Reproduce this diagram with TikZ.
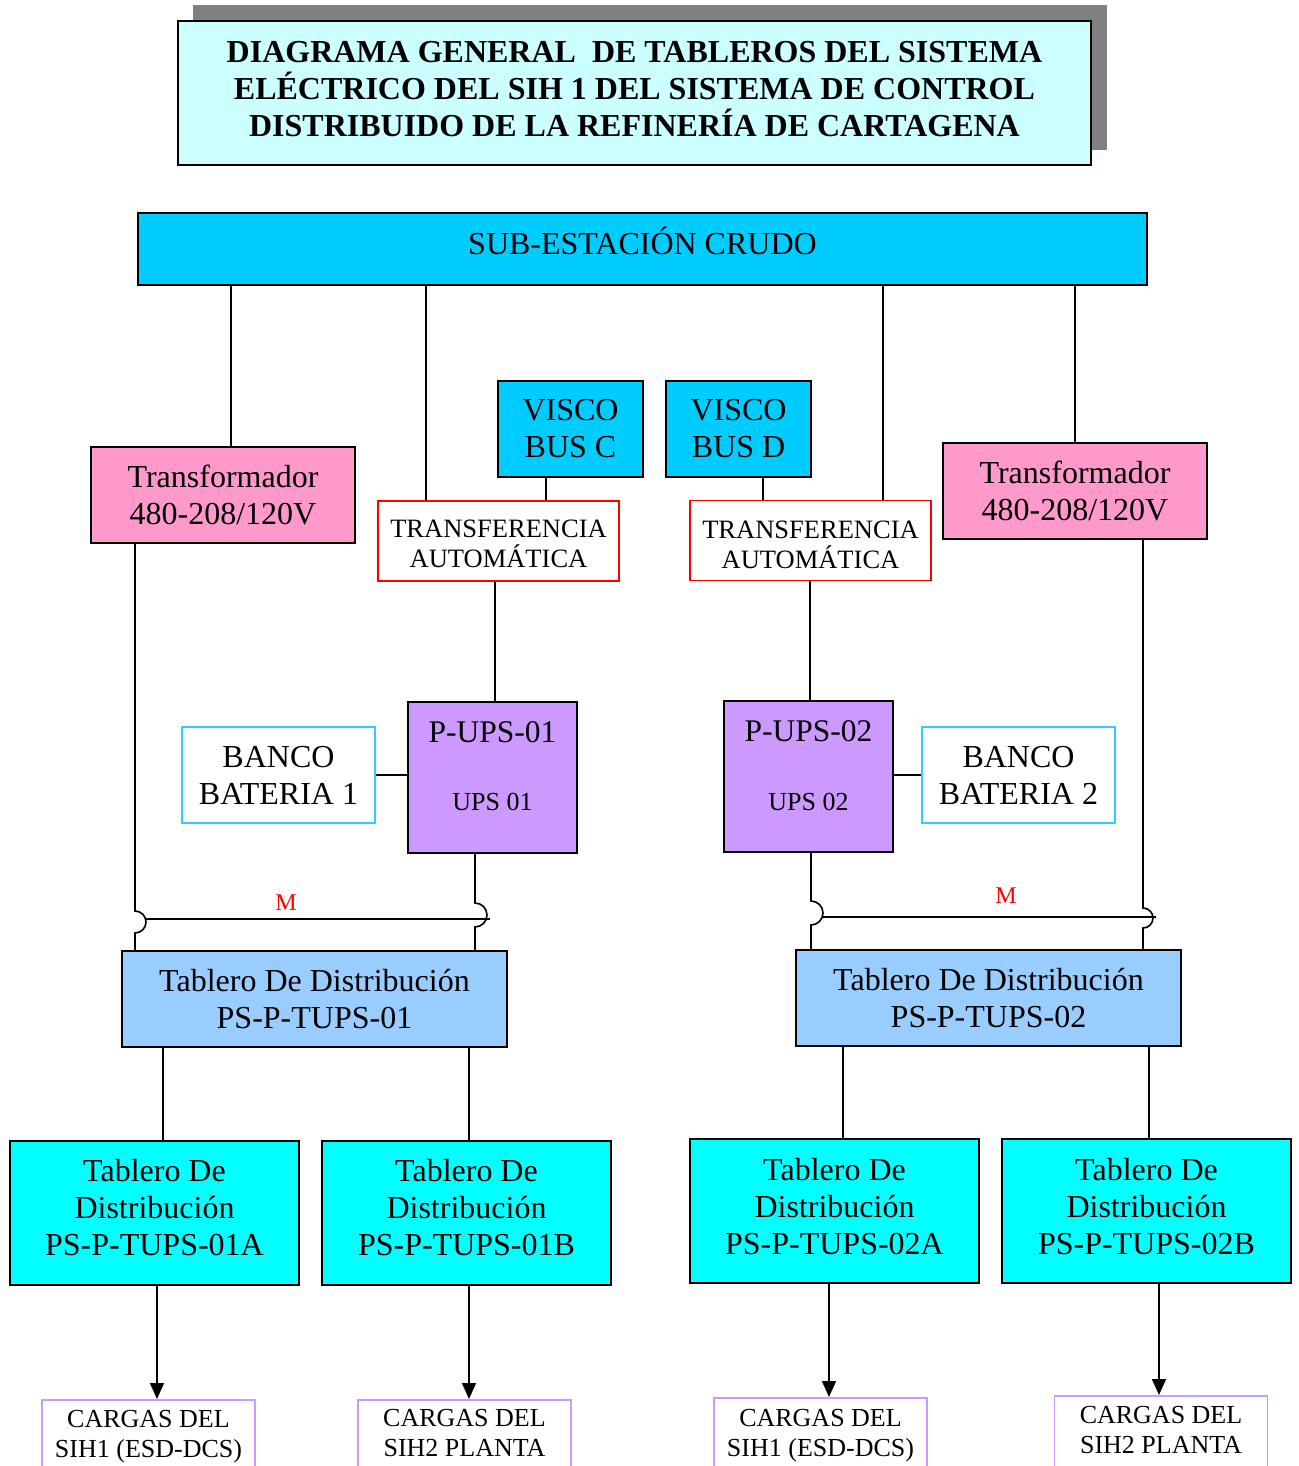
\documentclass[tikz,border=0pt]{standalone}
\usepackage{fontspec}
\setmainfont{Liberation Serif}
\usetikzlibrary{calc,arrows.meta}
\definecolor{titlefill}{HTML}{CCFFFF}
\definecolor{shadowgray}{HTML}{808080}
\definecolor{busblue}{HTML}{00CCFF}
\definecolor{trafopink}{HTML}{FF99CC}
\definecolor{upsviolet}{HTML}{CC99FF}
\definecolor{boardblue}{HTML}{99CCFF}
\definecolor{subcyan}{HTML}{00FFFF}
\definecolor{batcyan}{HTML}{33CCFF}
\definecolor{loadlilac}{HTML}{CC99FF}
\tikzset{
  box/.style={draw=black, line width=1.5pt, inner sep=0pt, align=center,
    font=\fontsize{32}{37}\selectfont},
  txt/.style={inner sep=0pt, align=center, font=\fontsize{32}{37}\selectfont},
  titlebox/.style={box, fill=titlefill},
  busbox/.style={box, fill=busblue},
  trafo/.style={box, fill=trafopink, minimum width=264pt, minimum height=96pt},
  transfer/.style={box, draw=red, fill=white, minimum width=241pt, minimum height=80pt},
  transfertext/.style={txt, font=\fontsize{26.5}{30}\selectfont},
  upsbox/.style={box, fill=upsviolet, minimum width=169pt, minimum height=151pt},
  battery/.style={box, draw=batcyan, fill=white, minimum width=193pt, minimum height=96pt},
  board/.style={box, fill=boardblue, minimum width=385pt, minimum height=96pt},
  subboard/.style={box, fill=subcyan, minimum width=289pt, minimum height=144pt},
  loadbox/.style={draw=loadlilac, line width=1.5pt, fill=white, inner sep=0pt,
    minimum width=213pt, minimum height=90pt, anchor=north},
  loadtext/.style={txt, font=\fontsize{26}{30}\selectfont},
  wire/.style={line width=1.6pt},
  feed/.style={wire, -{Triangle[width=14pt,length=16pt]}},
  mlabel/.style={text=red, inner sep=0pt, font=\fontsize{24}{28}\selectfont},
}
\begin{document}
\begin{tikzpicture}[x=1pt, y=-1pt]
\useasboundingbox (0,0) rectangle (1298,1466);
\clip (0,0) rectangle (1298,1466);

% title with drop shadow
\fill[shadowgray] (193,5) rectangle (1107,150);
\node[titlebox, minimum width=913pt, minimum height=144pt] (title) at (634.5,93) {};
\node[txt, font=\fontsize{32}{37}\selectfont\bfseries] (titletext) at (634.5,89)
  {DIAGRAMA GENERAL\ \ DE TABLEROS DEL SISTEMA\\ELÉCTRICO DEL SIH 1 DEL SISTEMA DE CONTROL\\DISTRIBUIDO DE LA REFINERÍA DE CARTAGENA};

% main substation
\node[busbox, minimum width=1009pt, minimum height=72pt] (sub) at (642.5,249) {};
\node[txt] (subtext) at (642.5,241) {SUB-ESTACIÓN CRUDO};

% transformers
\node[trafo] (tr1) at (223,495) {Transformador\\480-208/120V};
\node[trafo] (tr2) at (1075,491) {Transformador\\480-208/120V};

% visco buses
\node[busbox, minimum width=145pt, minimum height=96pt] (vc) at (570.5,429) {VISCO\\BUS C};
\node[busbox, minimum width=145pt, minimum height=96pt] (vd) at (738.5,429) {VISCO\\BUS D};

% automatic transfer switches
\node[transfer] (ta1) at (498.5,541) {};
\node[transfertext] (ta1text) at (498.5,544) {TRANSFERENCIA\\AUTOMÁTICA};
\node[transfer] (ta2) at (810.5,540.5) {};
\node[transfertext] (ta2text) at (810.5,544.5) {TRANSFERENCIA\\AUTOMÁTICA};

% UPS units
\node[upsbox] (ups1) at (492.5,777.5) {};
\node[txt, font=\fontsize{31.5}{36}\selectfont] (ups1a) at (492.5,732) {P-UPS-01};
\node[txt, font=\fontsize{26}{30}\selectfont] (ups1b) at (492.5,802) {UPS 01};
\node[upsbox] (ups2) at (808.5,776.5) {};
\node[txt, font=\fontsize{31.5}{36}\selectfont] (ups2a) at (808.5,731) {P-UPS-02};
\node[txt, font=\fontsize{26}{30}\selectfont] (ups2b) at (808.5,802) {UPS 02};

% battery banks
\node[battery] (bb1) at (278.5,775) {BANCO\\BATERIA 1};
\node[battery] (bb2) at (1018.5,775) {BANCO\\BATERIA 2};

% distribution boards
\node[board] (td1) at (314.5,999) {Tablero De Distribución\\PS-P-TUPS-01};
\node[board] (td2) at (988.5,998) {Tablero De Distribución\\PS-P-TUPS-02};

\node[subboard] (d1a) at (154.5,1213) {};
\node[txt] (d1atext) at (154.5,1208) {Tablero De\\Distribución\\PS-P-TUPS-01A};
\node[subboard] (d1b) at (466.5,1213) {};
\node[txt] (d1btext) at (466.5,1208) {Tablero De\\Distribución\\PS-P-TUPS-01B};
\node[subboard] (d2a) at (834.5,1211) {};
\node[txt] (d2atext) at (834.5,1207) {Tablero De\\Distribución\\PS-P-TUPS-02A};
\node[subboard] (d2b) at (1146.5,1211) {};
\node[txt] (d2btext) at (1146.5,1207) {Tablero De\\Distribución\\PS-P-TUPS-02B};

% loads
\node[loadbox] (c1) at (148.5,1399) {};
\node[loadtext] (c1t) at (148.5,1437) {CARGAS DEL\\SIH1 (ESD-DCS)};
\node[loadbox] (c2) at (464.5,1399) {};
\node[loadtext] (c2t) at (464.5,1433) {CARGAS DEL\\SIH2 PLANTA};
\node[loadbox] (c3) at (820.5,1397) {};
\node[loadtext] (c3t) at (820.5,1435.5) {CARGAS DEL\\SIH1 (ESD-DCS)};
\node[loadbox] (c4) at (1161,1395) {};
\node[loadtext] (c4t) at (1161,1430) {CARGAS DEL\\SIH2 PLANTA};

% feeders from the substation
\draw[wire] ($(tr1.north)+(8,0)$) coordinate (f1) -- (f1 |- sub.south);
\draw[wire] ($(ta1.north west)+(49,0)$) coordinate (f2) -- (f2 |- sub.south);
\draw[wire] ($(ta2.north east)+(-49,0)$) coordinate (f3) -- (f3 |- sub.south);
\draw[wire] (tr2.north) -- (tr2.north |- sub.south);

% visco buses to transfer switches
\draw[wire] ($(vc.south)+(-24.5,0)$) coordinate (v1) -- (v1 |- ta1.north);
\draw[wire] ($(vd.south)+(24.5,0)$) coordinate (v2) -- (v2 |- ta2.north);

% transfer switches to UPS
\draw[wire] ($(ta1.south)+(-3.5,0)$) coordinate (u1) -- (u1 |- ups1.north);
\draw[wire] ($(ta2.south)+(-0.5,0)$) coordinate (u2) -- (u2 |- ups2.north);

% batteries to UPS
\draw[wire] (bb1.east) -- (bb1.east -| ups1.west);
\draw[wire] (bb2.west) -- (bb2.west -| ups2.east);

% breakers and manual bypass tie, left board
\coordinate (k1) at (135,922);
\coordinate (k2) at (475,915);
\draw[wire] (k1 |- tr1.south) -- ($(k1)+(0,-11)$) arc[start angle=-90, end angle=90, radius=11]
  -- (k1 |- td1.north);
\draw[wire] (k2 |- ups1.south) -- ($(k2)+(0,-12)$) arc[start angle=-90, end angle=90, radius=12]
  -- (k2 |- td1.north);
\draw[wire] ($(k1)+(11,-3)$) -- ($(k2)+(15,4)$);
\node[mlabel] (m1) at (286,903) {M};

% breakers and manual bypass tie, right board
\coordinate (k3) at (811,913);
\coordinate (k4) at (1143,918);
\draw[wire] (k3 |- ups2.south) -- ($(k3)+(0,-12)$) arc[start angle=-90, end angle=90, radius=12]
  -- (k3 |- td2.north);
\draw[wire] (k4 |- tr2.south) -- ($(k4)+(0,-10)$) arc[start angle=-90, end angle=90, radius=10]
  -- (k4 |- td2.north);
\draw[wire] ($(k3)+(12,4)$) -- ($(k4)+(13,-1)$);
\node[mlabel] (m2) at (1006,896) {M};

% boards to sub-boards
\draw[wire] ($(d1a.north)+(8.5,0)$) coordinate (s1) -- (s1 |- td1.south);
\draw[wire] ($(d1b.north)+(2.5,0)$) coordinate (s2) -- (s2 |- td1.south);
\draw[wire] ($(d2a.north)+(8.5,0)$) coordinate (s3) -- (s3 |- td2.south);
\draw[wire] ($(d2b.north)+(2.5,0)$) coordinate (s4) -- (s4 |- td2.south);

% sub-boards to loads
\draw[feed] ($(d1a.south)+(2.5,0)$) coordinate (a1) -- (a1 |- c1.north);
\draw[feed] ($(d1b.south)+(2.5,0)$) coordinate (a2) -- (a2 |- c2.north);
\draw[feed] ($(d2a.south)+(-5.5,0)$) coordinate (a3) -- (a3 |- c3.north);
\draw[feed] ($(d2b.south)+(12.5,0)$) coordinate (a4) -- (a4 |- c4.north);
\end{tikzpicture}
\end{document}
